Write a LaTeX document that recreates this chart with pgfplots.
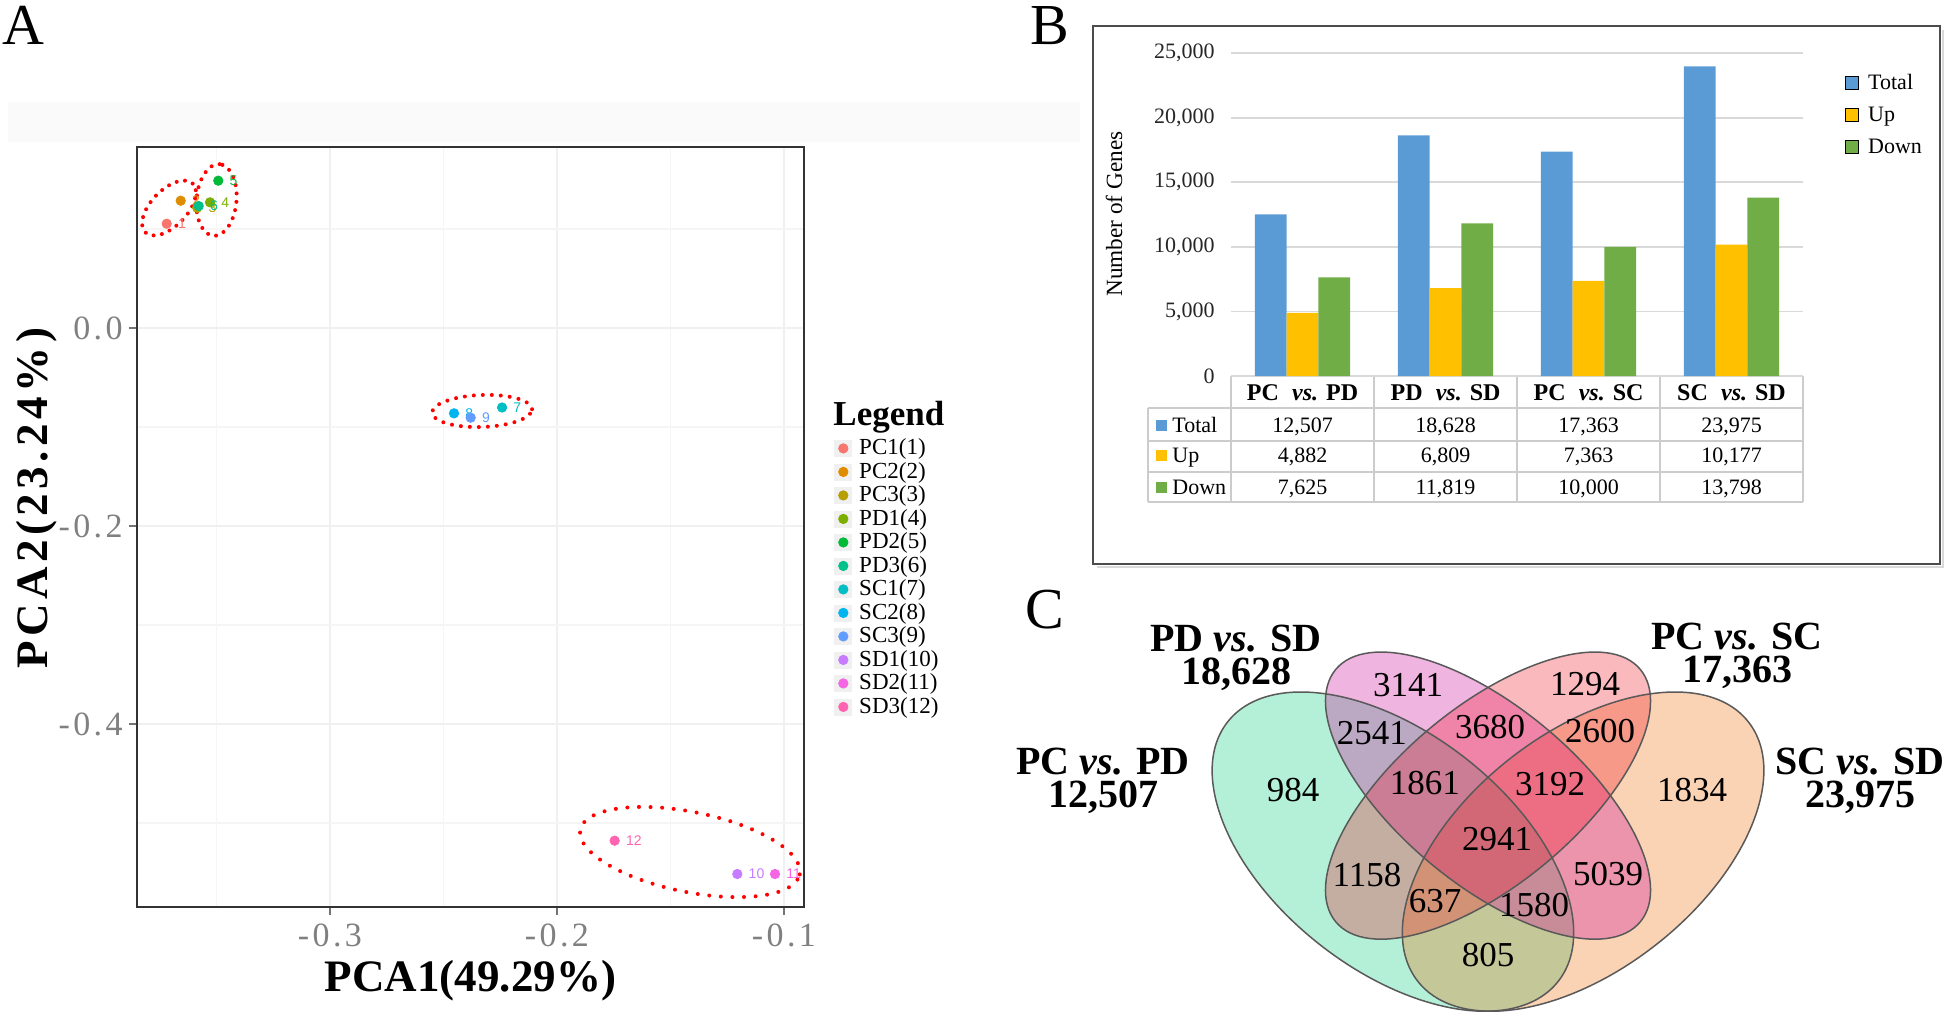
\documentclass[border=0pt]{standalone}
\usepackage{pgfplots}
\pgfplotsset{compat=1.18}
\usepackage{fontspec}
\setmainfont{Liberation Serif}
\newfontfamily\sansf{Liberation Sans}
\newfontfamily\spaced[LetterSpace=10]{Liberation Serif}
\definecolor{c1}{HTML}{F8766D}
\definecolor{c2}{HTML}{DE8C00}
\definecolor{c3}{HTML}{B79F00}
\definecolor{c4}{HTML}{7CAE00}
\definecolor{c5}{HTML}{00BA38}
\definecolor{c6}{HTML}{00C08B}
\definecolor{c7}{HTML}{00BFC4}
\definecolor{c8}{HTML}{00B4F0}
\definecolor{c9}{HTML}{619CFF}
\definecolor{c10}{HTML}{C77CFF}
\definecolor{c11}{HTML}{F564E3}
\definecolor{c12}{HTML}{FF64B0}
\definecolor{cTotal}{HTML}{5B9BD5}
\definecolor{cUp}{HTML}{FFC000}
\definecolor{cDown}{HTML}{70AD47}
\definecolor{vgreen}{RGB}{5,205,122}
\definecolor{vorange}{RGB}{238,105,5}
\definecolor{vpink}{RGB}{205,5,155}
\definecolor{vsalmon}{RGB}{238,22,38}
\newcommand\fsz[1]{\fontsize{#1}{#1}\selectfont}
\begin{document}
\begin{tikzpicture}
\useasboundingbox (0pt,0pt) rectangle (974pt,-507pt);
\begin{scope}[x=0.5pt,y=-0.5pt]
  \fill[black!2] (8,102) rectangle (1080,142);
  \node[anchor=base west,inner sep=0pt,font=\fsz{29}] at (2,44) {A};
  \node[anchor=base west,inner sep=0pt,font=\fsz{29}] at (1030,44) {B};
  \node[anchor=base west,inner sep=0pt,font=\fsz{29}] at (1025,628) {C};
  \node[anchor=base west,inner sep=0pt,font=\bfseries\fsz{17.5}] at (833,425) {Legend};
  % frame of B
  \draw[black!15,line width=1pt] (1097,567) -- (1943,567) -- (1943,30);
  \draw[black!70,line width=0.75pt] (1093,26) rectangle (1940,564);
  % table of B
  \begin{scope}[black!20,line width=0.8pt]
    \draw (1231,376) -- (1803,376);
    \foreach \yy in {408,441,472,502} \draw (1148,\yy) -- (1803,\yy);
    \draw (1148,408) -- (1148,502);
    \foreach \xx in {1231,1374,1517,1660,1803} \draw (\xx,376) -- (\xx,502);
  \end{scope}
  \begin{scope}[every node/.style={inner sep=0pt,anchor=base,font=\bfseries\fsz{12}}]
    \node at (1302.5,400) {PC\hspace{0.55em}\textit{vs.} PD};
    \node at (1445.5,400) {PD\hspace{0.55em}\textit{vs.} SD};
    \node at (1588.5,400) {PC\hspace{0.55em}\textit{vs.} SC};
    \node at (1731.5,400) {SC\hspace{0.55em}\textit{vs.} SD};
  \end{scope}
  \begin{scope}[every node/.style={inner sep=0pt,anchor=base,font=\fsz{11}}]
    \node at (1302.5,432.4) {12,507}; \node at (1445.5,432.4) {18,628};
    \node at (1588.5,432.4) {17,363}; \node at (1731.5,432.4) {23,975};
    \node at (1302.5,462.4) {4,882};  \node at (1445.5,462.4) {6,809};
    \node at (1588.5,462.4) {7,363};  \node at (1731.5,462.4) {10,177};
    \node at (1302.5,494.4) {7,625};  \node at (1445.5,494.4) {11,819};
    \node at (1588.5,494.4) {10,000}; \node at (1731.5,494.4) {13,798};
  \end{scope}
  \fill[cTotal] (1156,419.5) rectangle (1167,430.5);
  \fill[cUp] (1156,449.5) rectangle (1167,460.5);
  \fill[cDown] (1156,481.5) rectangle (1167,492.5);
  \begin{scope}[every node/.style={inner sep=0pt,anchor=base west,font=\fsz{11}}]
    \node at (1172,432.4) {Total};
    \node at (1172,462.4) {Up};
    \node at (1172,494.4) {Down};
  \end{scope}
  % Venn set labels (one node each, two lines)
  \begin{scope}[every node/.style={inner sep=0pt,anchor=north,align=center,font=\bfseries\fontsize{20}{16.5}\selectfont}]
    \node at (1236,625) {PD \textit{vs.} SD\\18,628};
    \node at (1103,748) {PC \textit{vs.} PD\\12,507};
    \node at (1737,623) {PC \textit{vs.} SC\\17,363};
    \node at (1860,748) {SC \textit{vs.} SD\\23,975};
  \end{scope}
\end{scope}

% ---------------- Panel A: PCA ----------------
\begin{axis}[
  at={(68.5pt,-73.5pt)}, anchor=north west,
  width=333.5pt, height=380pt, scale only axis,
  xmin=-0.38502, xmax=-0.09119, ymin=-0.58485, ymax=0.18283,
  xtick={-0.3,-0.2,-0.1}, xticklabels={{-0.3},{-0.2},{-0.1}},
  ytick={-0.4,-0.2,0}, yticklabels={{-0.4},{-0.2},{0.0}},
  minor xtick={-0.35,-0.25,-0.15}, minor ytick={-0.5,-0.3,-0.1,0.1},
  grid=both,
  major grid style={draw=black!6,line width=0.8pt},
  minor grid style={draw=black!4,line width=0.8pt},
  minor tick length=0pt, major tick length=4pt, tick align=outside,
  xtick pos=left, ytick pos=left,
  tick style={black!55,line width=0.6pt},
  axis line style={black!80,line width=0.8pt},
  ticklabel style={font=\spaced\fsz{17},text=black!50},
  xticklabel style={inner sep=4pt},
  yticklabel style={inner sep=3pt},
  xlabel={PCA1(49.29\%)}, ylabel={PCA2(23.24\%)},
  xlabel style={font=\bfseries\fsz{22.5},at={(axis description cs:0.5,-0.1118)},anchor=base},
  ylabel style={font=\spaced\bfseries\fsz{22.5},at={(axis description cs:-0.1499,0.538)},anchor=center},
  every node near coord/.style={anchor=west,font=\sansf\fsz{7},inner sep=0pt,xshift=5.5pt},
  legend cell align=left,
  legend style={at={(axis description cs:1.045,0.6194)},anchor=north west,draw=none,fill=none,
    inner sep=0pt,row sep=0pt,column sep=3.5pt,font=\fsz{11.5},
    nodes={inner sep=0pt,text height=9pt,text depth=2.75pt}},
  legend image code/.code={\fill[black!6] (0pt,-4pt) rectangle (8.5pt,4pt);
    \draw[#1] plot coordinates {(4.25pt,0pt)};},
]
\addplot[only marks,mark=*,mark size=2.35pt,c1,nodes near coords={\textcolor{c1}{1}}] coordinates {(-0.37194,0.10535)};
\addlegendentry{PC1(1)}
\addplot[only marks,mark=*,mark size=2.35pt,c2,nodes near coords={\textcolor{c2}{2}}] coordinates {(-0.36577,0.12859)};
\addlegendentry{PC2(2)}
\addplot[only marks,mark=*,mark size=2.35pt,c3,nodes near coords={\textcolor{c3}{3}}] coordinates {(-0.35850,0.12150)};
\addlegendentry{PC3(3)}
\addplot[only marks,mark=*,mark size=2.35pt,c4,nodes near coords={\textcolor{c4}{4}}] coordinates {(-0.35286,0.12694)};
\addlegendentry{PD1(4)}
\addplot[only marks,mark=*,mark size=2.35pt,c5,nodes near coords={\textcolor{c5}{5}}] coordinates {(-0.34921,0.14882)};
\addlegendentry{PD2(5)}
\addplot[only marks,mark=*,mark size=2.35pt,c6,nodes near coords={\textcolor{c6}{6}}] coordinates {(-0.35784,0.12323)};
\addlegendentry{PD3(6)}
\addplot[only marks,mark=*,mark size=2.35pt,c7,nodes near coords={\textcolor{c7}{7}}] coordinates {(-0.22420,-0.08030)};
\addlegendentry{SC1(7)}
\addplot[only marks,mark=*,mark size=2.35pt,c8,nodes near coords={\textcolor{c8}{8}}] coordinates {(-0.24537,-0.08620)};
\addlegendentry{SC2(8)}
\addplot[only marks,mark=*,mark size=2.35pt,c9,nodes near coords={\textcolor{c9}{9}}] coordinates {(-0.23802,-0.09057)};
\addlegendentry{SC3(9)}
\addplot[only marks,mark=*,mark size=2.35pt,c10,nodes near coords={\textcolor{c10}{10}}] coordinates {(-0.12057,-0.55152)};
\addlegendentry{SD1(10)}
\addplot[only marks,mark=*,mark size=2.35pt,c11,nodes near coords={\textcolor{c11}{11}}] coordinates {(-0.10396,-0.55152)};
\addlegendentry{SD2(11)}
\addplot[only marks,mark=*,mark size=2.35pt,c12,nodes near coords={\textcolor{c12}{12}}] coordinates {(-0.17460,-0.51785)};
\addlegendentry{SD3(12)}
\begin{scope}[red,line width=2pt,line cap=round]
\draw[dash pattern=on 0pt off 4.2pt,rotate around={46:(axis cs:-0.3709,0.1212)}] (axis cs:-0.3709,0.1212) ellipse [x radius=17pt,y radius=9pt];
\draw[dash pattern=on 0pt off 4.2pt,rotate around={85:(axis cs:-0.35,0.1293)}] (axis cs:-0.35,0.1293) ellipse [x radius=18pt,y radius=10pt];
\draw[dash pattern=on 0pt off 4.5pt,rotate around={2:(axis cs:-0.2330,-0.0838)}] (axis cs:-0.2330,-0.0838) ellipse [x radius=25pt,y radius=8pt];
\draw[dash pattern=on 0pt off 5.8pt,rotate around={-11.5:(axis cs:-0.1414,-0.5293)}] (axis cs:-0.1414,-0.5293) ellipse [x radius=56pt,y radius=20pt];
\end{scope}
\end{axis}

% ---------------- Panel B: bars ----------------
\begin{axis}[
  at={(615.5pt,-26.5pt)}, anchor=north west,
  width=286pt, height=161.5pt, scale only axis,
  ybar=0pt, bar width=15.85pt,
  xmin=-0.5, xmax=3.5, ymin=0, ymax=25000,
  xtick=\empty,
  ytick={0,5000,10000,15000,20000,25000},
  yticklabels={0,{5,000},{10,000},{15,000},{20,000},{25,000}},
  scaled y ticks=false,
  ymajorgrids, major grid style={draw=black!15,line width=0.9pt},
  axis line style={draw=none}, major tick length=0pt, tick style={draw=none},
  yticklabel style={font=\fsz{11},text=black!85,inner sep=0pt,anchor=east,xshift=-8pt},
  ylabel={Number of Genes},
  ylabel style={font=\fsz{11.6},at={(axis description cs:-0.2045,0.5015)},anchor=center},
  legend cell align=left,
  legend style={at={(axis description cs:1.0734,0.9582)},anchor=north west,draw=none,fill=none,
    inner sep=0pt,row sep=0pt,column sep=4.5pt,font=\fsz{11},
    nodes={inner sep=0pt,text height=11.5pt,text depth=4.5pt}},
  legend image code/.code={\draw[#1] (0pt,-3.25pt) rectangle (6.5pt,3.25pt);},
]
\addplot[fill=cTotal,draw=none] coordinates {(0,12507) (1,18628) (2,17363) (3,23975)};
\addlegendentry{Total}
\addplot[fill=cUp,draw=none] coordinates {(0,4882) (1,6809) (2,7363) (3,10177)};
\addlegendentry{Up}
\addplot[fill=cDown,draw=none] coordinates {(0,7625) (1,11819) (2,10000) (3,13798)};
\addlegendentry{Down}
\end{axis}

% ---------------- Panel C: Venn ----------------
\begin{axis}[
  at={(585.5pt,-277.4pt)}, anchor=north west,
  width=317pt, height=224pt, scale only axis,
  xmin=0, xmax=1, ymin=0.2, ymax=1, hide axis, clip=false,
]
\fill[vgreen,fill opacity=0.3,rotate around={-38.1:(axis cs:0.35,0.47)}] (axis cs:0.35,0.47) ellipse [x radius=105.06pt,y radius=59.14pt];
\fill[vorange,fill opacity=0.3,rotate around={38.1:(axis cs:0.65,0.47)}] (axis cs:0.65,0.47) ellipse [x radius=105.06pt,y radius=59.14pt];
\fill[vpink,fill opacity=0.3,rotate around={-39.64:(axis cs:0.5,0.57)}] (axis cs:0.5,0.57) ellipse [x radius=98.89pt,y radius=44.43pt];
\fill[vsalmon,fill opacity=0.3,rotate around={39.64:(axis cs:0.5,0.57)}] (axis cs:0.5,0.57) ellipse [x radius=98.89pt,y radius=44.43pt];
\begin{scope}[draw=black!65,line width=0.75pt]
\draw[rotate around={-38.1:(axis cs:0.35,0.47)}] (axis cs:0.35,0.47) ellipse [x radius=105.06pt,y radius=59.14pt];
\draw[rotate around={38.1:(axis cs:0.65,0.47)}] (axis cs:0.65,0.47) ellipse [x radius=105.06pt,y radius=59.14pt];
\draw[rotate around={-39.64:(axis cs:0.5,0.57)}] (axis cs:0.5,0.57) ellipse [x radius=98.89pt,y radius=44.43pt];
\draw[rotate around={39.64:(axis cs:0.5,0.57)}] (axis cs:0.5,0.57) ellipse [x radius=98.89pt,y radius=44.43pt];
\end{scope}
\begin{scope}[every node/.style={inner sep=0pt,font=\fsz{17.5}}]
\node at (axis cs:0.3738,0.7675) {3141};
\node at (axis cs:0.6530,0.7693) {1294};
\node at (axis cs:0.3170,0.6818) {2541};
\node at (axis cs:0.5032,0.6925) {3680};
\node at (axis cs:0.6767,0.6854) {2600};
\node at (axis cs:0.1924,0.5800) {984};
\node at (axis cs:0.4006,0.5925) {1861};
\node at (axis cs:0.5978,0.5907) {3192};
\node at (axis cs:0.8218,0.5800) {1834};
\node at (axis cs:0.5142,0.4925) {2941};
\node at (axis cs:0.3091,0.4282) {1158};
\node at (axis cs:0.6893,0.4300) {5039};
\node at (axis cs:0.4164,0.3818) {637};
\node at (axis cs:0.5726,0.3746) {1580};
\node at (axis cs:0.5000,0.2854) {805};
\end{scope}
\end{axis}
\end{tikzpicture}
\end{document}
